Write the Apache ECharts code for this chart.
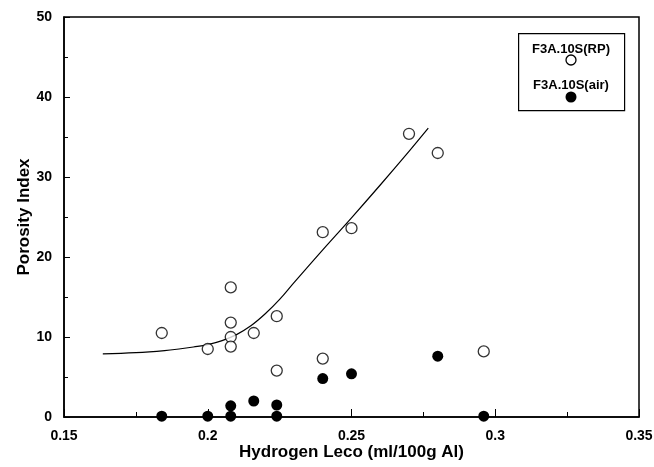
<!DOCTYPE html>
<html lang="en">
<head>
    <meta charset="UTF-8">
    <title>porosity_index</title>
    <script src="https://cdn.jsdelivr.net/npm/echarts@6/dist/echarts.min.js"></script>
    <style>
        html, body { margin: 0; padding: 0; background: #fff; }
        #chart { width: 654px; height: 467px; }
    </style>
</head>
<body>
<div id="chart"></div>
<script>
    // open circles: F3A.10S(RP)
    var rpX = [0.184, 0.2, 0.208, 0.208, 0.208, 0.208, 0.216, 0.224, 0.224, 0.24, 0.24, 0.25, 0.27, 0.28, 0.296];
    var rpY = [10.5, 8.5, 16.2, 11.8, 10.0, 8.8, 10.5, 12.6, 5.8, 23.1, 7.3, 23.6, 35.4, 33.0, 8.2];
    // filled circles: F3A.10S(air)
    var airX = [0.184, 0.2, 0.208, 0.208, 0.216, 0.224, 0.224, 0.24, 0.25, 0.28, 0.296];
    var airY = [0.1, 0.1, 1.4, 0.1, 2.0, 1.5, 0.1, 4.8, 5.4, 7.6, 0.1];
    // fitted curve through the RP points
    var fitX = [0.1635, 0.175, 0.185, 0.19, 0.195, 0.2, 0.205, 0.21, 0.215, 0.22, 0.225, 0.23, 0.24, 0.25, 0.26, 0.27, 0.2767];
    var fitY = [7.9, 8.05, 8.3, 8.5, 8.75, 9.05, 9.55, 10.3, 11.4, 12.9, 14.7, 16.8, 20.9, 24.9, 29.0, 33.2, 36.1];

    function pairs(xs, ys) {
        return xs.map(function (x, i) { return [x, ys[i]]; });
    }

    var font = 'Liberation Sans';
    var chart = echarts.init(document.getElementById('chart'));
    chart.setOption({
        animation: false,
        backgroundColor: '#fff',
        grid: {
            left: 64, right: 15, top: 17, bottom: 50,
            outerBoundsMode: 'none',
            show: true, borderColor: '#000', borderWidth: 1.5
        },
        xAxis: {
            type: 'value', min: 0.15, max: 0.35, interval: 0.05,
            name: 'Hydrogen Leco (ml/100g Al)',
            nameLocation: 'middle', nameGap: 27, nameMoveOverlap: false,
            nameTextStyle: { fontFamily: font, fontWeight: 'bold', fontSize: 17, color: '#000' },
            axisLine: { lineStyle: { color: '#000', width: 1.5 } },
            axisTick: { inside: true, length: 8, lineStyle: { color: '#000' } },
            minorTick: { show: true, splitNumber: 2, length: 5, lineStyle: { color: '#000' } },
            axisLabel: { fontFamily: font, fontWeight: 'bold', fontSize: 14, color: '#000', margin: 12 },
            splitLine: { show: false }
        },
        yAxis: {
            type: 'value', min: 0, max: 50, interval: 10,
            name: 'Porosity Index',
            nameLocation: 'middle', nameGap: 31, nameMoveOverlap: false,
            nameTextStyle: { fontFamily: font, fontWeight: 'bold', fontSize: 17, color: '#000' },
            axisLine: { lineStyle: { color: '#000', width: 1.5 } },
            axisTick: { inside: true, length: 6, lineStyle: { color: '#000' } },
            minorTick: { show: true, splitNumber: 2, length: 4, lineStyle: { color: '#000' } },
            axisLabel: { fontFamily: font, fontWeight: 'bold', fontSize: 14, color: '#000', margin: 12 },
            splitLine: { show: false }
        },
        series: [
            {
                name: 'fit',
                type: 'line',
                data: pairs(fitX, fitY),
                smooth: 0.4,
                showSymbol: false,
                lineStyle: { color: '#000', width: 1.2 },
                z: 1
            },
            {
                name: 'F3A.10S(RP)',
                type: 'scatter',
                data: pairs(rpX, rpY),
                symbol: 'circle',
                symbolSize: 11,
                itemStyle: { color: '#fff', borderColor: '#000', borderWidth: 1.3 },
                z: 3
            },
            {
                name: 'F3A.10S(air)',
                type: 'scatter',
                data: pairs(airX, airY),
                symbol: 'circle',
                symbolSize: 11,
                itemStyle: { color: '#000', opacity: 1 },
                z: 4
            }
        ],
        graphic: [
            {
                type: 'rect', left: 518, top: 33,
                shape: { width: 106, height: 77 },
                style: { fill: '#fff', stroke: '#000', lineWidth: 1.2 }
            },
            {
                type: 'text', x: 571, y: 49,
                style: { text: 'F3A.10S(RP)', font: 'bold 13px Liberation Sans', fill: '#000', align: 'center', verticalAlign: 'middle' }
            },
            {
                type: 'circle', shape: { cx: 571, cy: 60, r: 5 },
                style: { fill: '#fff', stroke: '#000', lineWidth: 1.3 }
            },
            {
                type: 'text', x: 571, y: 85,
                style: { text: 'F3A.10S(air)', font: 'bold 13px Liberation Sans', fill: '#000', align: 'center', verticalAlign: 'middle' }
            },
            {
                type: 'circle', shape: { cx: 571, cy: 97, r: 5.5 },
                style: { fill: '#000' }
            }
        ]
    });
</script>
</body>
</html>
